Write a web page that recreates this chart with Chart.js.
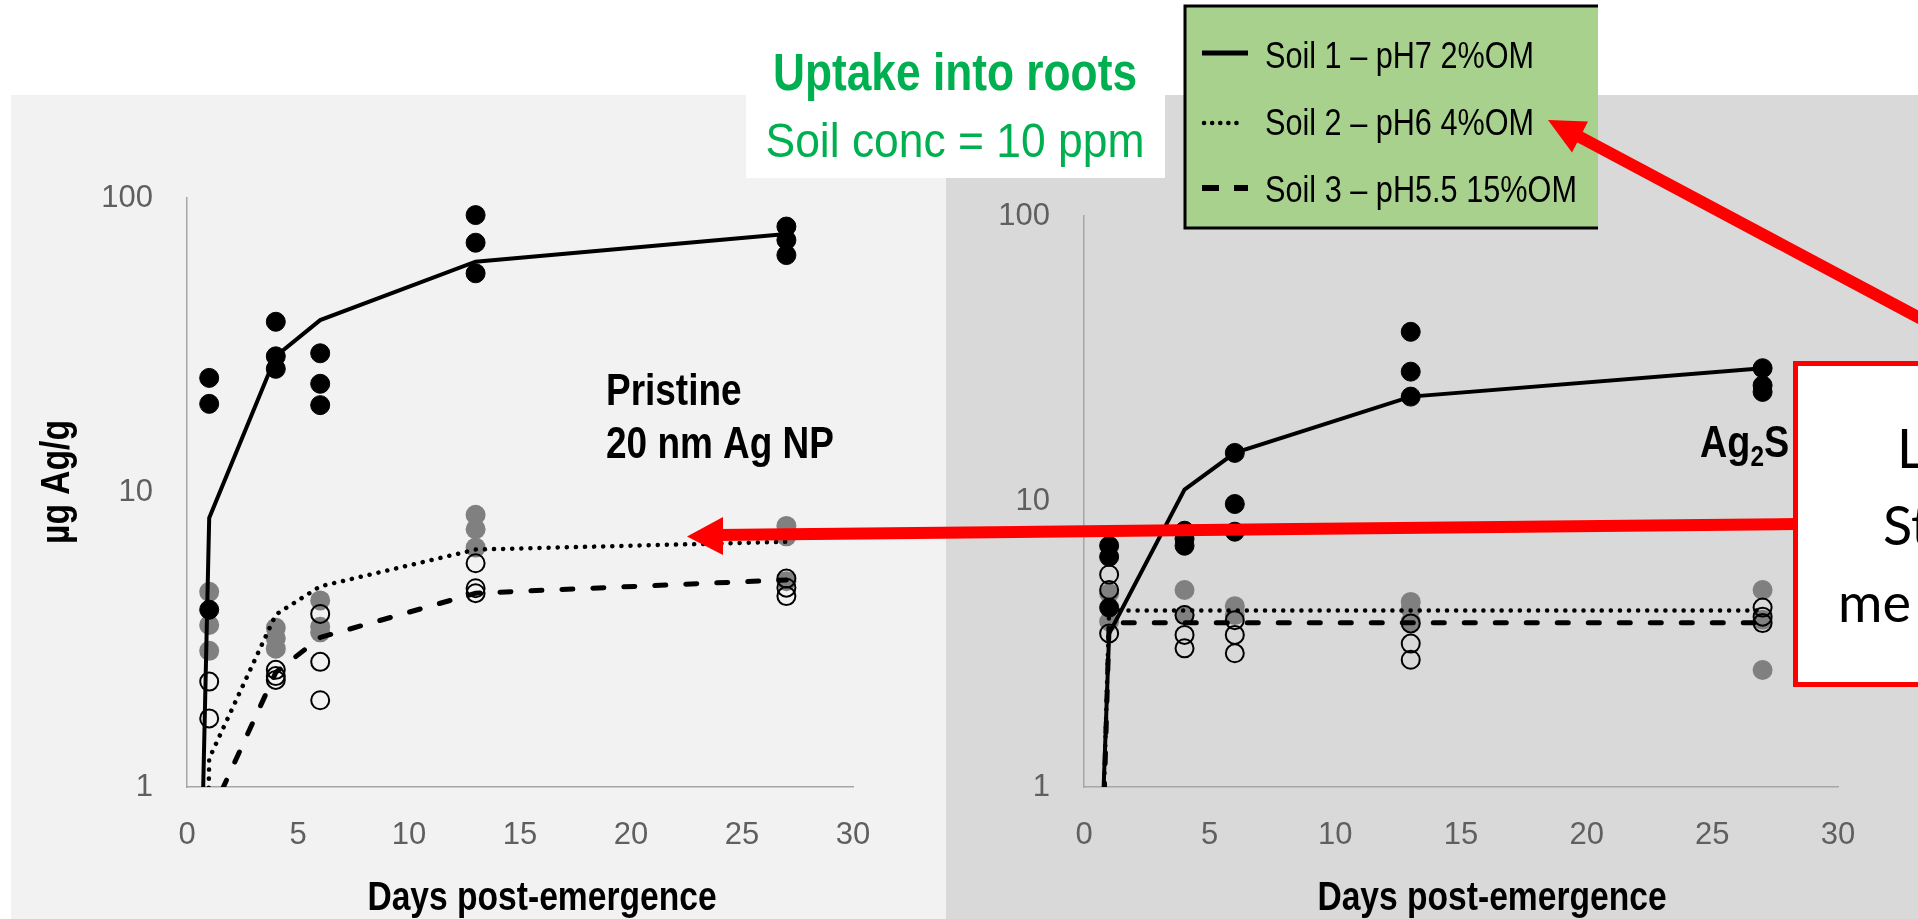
<!DOCTYPE html>
<html><head><meta charset="utf-8">
<script src="https://cdn.jsdelivr.net/npm/chart.js@4.4.1/dist/chart.umd.min.js"></script>
<style>
html,body{margin:0;padding:0;background:#fff;}
body{width:1918px;height:919px;overflow:hidden;position:relative;}
.panel{position:absolute;}
#ov{position:absolute;left:0;top:0;}
</style></head><body>
<div class="panel" style="left:11px;top:95px;width:935px;height:824px;background:#f2f2f2"><canvas id="c1" width="935" height="824"></canvas></div>
<div class="panel" style="left:946px;top:95px;width:972px;height:824px;background:#d9d9d9"><canvas id="c2" width="972" height="824"></canvas></div>
<svg id="ov" width="1918" height="919" xmlns="http://www.w3.org/2000/svg">
  <rect x="746" y="0" width="419" height="178" fill="#fff"/>
  <text x="955" y="90" text-anchor="middle" fill="#00b050" textLength="364" lengthAdjust="spacingAndGlyphs" style="font:bold 51px 'Liberation Sans',Arial,sans-serif">Uptake into roots</text>
  <text x="955" y="157" text-anchor="middle" fill="#00b050" textLength="379" lengthAdjust="spacingAndGlyphs" style="font:49px 'Liberation Sans',Arial,sans-serif">Soil conc = 10 ppm</text>
  <rect x="1185" y="6" width="413" height="222" fill="#a9d18e"/>
  <path d="M1598,6 L1185,6 L1185,228 L1598,228" fill="none" stroke="#000" stroke-width="3"/>
  <line x1="1202" y1="53" x2="1248" y2="53" stroke="#000" stroke-width="5"/>
  <line x1="1204" y1="123" x2="1242" y2="123" stroke="#000" stroke-width="4.5" stroke-linecap="round" stroke-dasharray="0.1 8"/>
  <line x1="1202" y1="188" x2="1248" y2="188" stroke="#000" stroke-width="6" stroke-dasharray="17 15"/>
  <g fill="#000" style="font:36px 'Liberation Sans',Arial,sans-serif">
    <text x="1265" y="68" id="lg0" textLength="269" lengthAdjust="spacingAndGlyphs"></text>
    <text x="1265" y="135" id="lg1" textLength="269" lengthAdjust="spacingAndGlyphs"></text>
    <text x="1265" y="202" id="lg2" textLength="312" lengthAdjust="spacingAndGlyphs"></text>
  </g>
  <rect x="1795.5" y="363.5" width="200" height="321" fill="#fff" stroke="#ff0000" stroke-width="5"/>
  <g fill="#000" style="font:54px Lato,'Open Sans',sans-serif">
    <text x="1897" y="468">L</text>
    <text x="1883" y="545">St</text>
    <text x="1838" y="622">me</text>
  </g>
  <line x1="1795" y1="524" x2="718" y2="535" stroke="#ff0000" stroke-width="12"/>
  <polygon points="687,536.5 723,517 723,555" fill="#ff0000"/>
  <line x1="1930" y1="323.5" x2="1578" y2="136" stroke="#ff0000" stroke-width="12"/>
  <polygon points="1548,120 1588,121.5 1572,152.5" fill="#ff0000"/>
</svg>
<script>
// ---------------- data ----------------
const sampleDays = [1, 4, 6, 13, 27];
const meanDays = [0, 1, 4, 6, 13, 27];
const seriesNames = ['Soil 1 \u2013 pH7 2%OM', 'Soil 2 \u2013 pH6 4%OM', 'Soil 3 \u2013 pH5.5 15%OM'];
const yTickValues = [1, 10, 100];
const xMin = 0, xMax = 30, xStep = 5;

// Pristine 20 nm Ag NP – individual replicates (µg Ag/g) per sampling day
const pristineSoil1 = [[24.5, 20.0, 4.0], [38.0, 29.0, 26.3], [29.7, 23.4, 19.8], [87.5, 70.5, 55.5], [80.0, 72.0, 64.0]];
const pristineSoil2 = [[4.6, 3.55, 2.9], [3.47, 3.2, 2.95], [4.3, 3.5, 3.35], [8.4, 7.5, 6.5], [7.7, 7.1, 5.0]];
const pristineSoil3 = [[2.28, 1.71], [2.5, 2.38, 2.31], [3.87, 2.66, 1.97], [5.75, 4.73, 4.55], [5.1, 4.75, 4.45]];
// Pristine – mean lines
const pristineMean1 = [0.0034, 8.2, 29.0, 38.5, 60.8, 75.5];
const pristineMean2 = [0.00002, 1.25, 3.85, 4.8, 6.4, 6.8];
const pristineMean3 = [0.01, 0.785, 2.45, 3.22, 4.55, 5.05];

// Ag2S – individual replicates
const ag2sSoil1 = [[7.0, 6.4, 4.25], [7.9, 7.4, 7.0], [14.8, 9.8, 7.84], [39.3, 28.5, 23.3], [29.3, 25.5, 24.2]];
const ag2sSoil2 = [[4.77, 3.8], [4.9, 4.0], [4.3, 4.0], [4.45, 4.2, 3.8], [4.9, 3.85, 2.57]];
const ag2sSoil3 = [[5.55, 4.9, 3.45], [4.0, 3.41, 3.06], [3.84, 3.41, 2.94], [3.74, 3.18, 2.79], [4.25, 3.95, 3.75]];
// Ag2S – mean lines
const ag2sMean1 = [0.0118, 3.45, 11.0, 14.8, 23.3, 29.3];
const ag2sMean2 = [0.0034, 4.15, 4.15, 4.15, 4.15, 4.15];
const ag2sMean3 = [0.003, 3.76, 3.76, 3.76, 3.76, 3.76];

// ---------------- helpers ----------------
seriesNames.forEach((n, i) => { document.getElementById('lg' + i).textContent = n; });

function toPoints(values) {
  const pts = [];
  values.forEach((vals, i) => vals.forEach(v => pts.push({x: sampleDays[i], y: v})));
  return pts;
}
function toLine(means) { return means.map((v, i) => ({x: meanDays[i], y: v})); }

const SANS = '"Liberation Sans",Arial,sans-serif';
const TICKFONT = {family: SANS, size: 31};

const lineStyles = [
  {borderColor: '#000', borderWidth: 4, borderDash: []},
  {borderColor: '#000', borderWidth: 4.5, borderDash: [0.1, 9], borderCapStyle: 'round'},
  {borderColor: '#000', borderWidth: 5, borderDash: [11, 20], borderCapStyle: 'round'}
];
const pointStyles = [
  {backgroundColor: '#000', borderColor: '#000', borderWidth: 1, pointRadius: 9.5, order: 4},
  {backgroundColor: '#808080', borderColor: '#808080', borderWidth: 0, pointRadius: 10, order: 5},
  {backgroundColor: 'rgba(0,0,0,0)', borderColor: '#000', borderWidth: 2, pointRadius: 9, order: 3}
];

function buildDatasets(points, means) {
  const ds = [];
  for (let i = 0; i < 3; i++) {
    ds.push(Object.assign({label: seriesNames[i], data: toLine(means[i]), showLine: true,
      pointRadius: 0, pointHoverRadius: 0, fill: false, tension: 0, order: i}, lineStyles[i]));
    ds.push(Object.assign({label: seriesNames[i] + ' (replicates)', data: toPoints(points[i]),
      showLine: false, pointHoverRadius: 0}, pointStyles[i]));
  }
  return ds;
}

// condensed text drawn on the chart canvas (horizontal scale sx ≈ narrow face)
function textLayer(items) {
  return {
    id: 'textLayer',
    afterDraw(chart) {
      const ctx = chart.ctx;
      items.forEach(it => {
        ctx.save();
        ctx.fillStyle = it.color || '#000';
        ctx.textAlign = it.align || 'left';
        ctx.textBaseline = it.baseline || 'alphabetic';
        ctx.translate(it.x, it.y);
        if (it.rotate) ctx.rotate(it.rotate);
        ctx.scale(it.sx || 1, 1);
        if (it.parts) {
          let x = 0;
          it.parts.forEach(p => {
            ctx.font = p.font; ctx.fillText(p.text, x, p.dy || 0);
            x += ctx.measureText(p.text).width;
          });
        } else {
          ctx.font = it.font; ctx.fillText(it.text, 0, 0);
        }
        ctx.restore();
      });
    }
  };
}

function makeConfig(points, means, W, H, area, texts) {
  return {
    type: 'scatter',
    data: {datasets: buildDatasets(points, means)},
    plugins: [textLayer(texts)],
    options: {
      responsive: false, animation: false, events: [],
      layout: {padding: {left: 0, top: area.top, right: W - area.right, bottom: 0}},
      plugins: {legend: {display: false}, tooltip: {enabled: false}},
      scales: {
        x: {type: 'linear', min: xMin, max: xMax,
          ticks: {stepSize: xStep, color: '#5f5f5f', font: TICKFONT, padding: 30, maxRotation: 0},
          grid: {display: false, drawTicks: false},
          border: {display: true, color: '#a6a6a6', width: 1.5},
          afterFit: s => { s.height = H - area.bottom; }},
        y: {type: 'logarithmic', min: yTickValues[0], max: yTickValues[yTickValues.length - 1],
          ticks: {color: '#5f5f5f', font: TICKFONT, padding: 34, callback: v => String(v)},
          afterBuildTicks: s => { s.ticks = yTickValues.map(v => ({value: v})); },
          grid: {display: false, drawTicks: false},
          border: {display: true, color: '#a6a6a6', width: 1.5},
          afterFit: s => { s.width = area.left; }}
      }
    }
  };
}

const NX = 0.84;
new Chart(document.getElementById('c1'), makeConfig(
  [pristineSoil1, pristineSoil2, pristineSoil3],
  [pristineMean1, pristineMean2, pristineMean3],
  935, 824, {left: 176, right: 842, top: 103, bottom: 692},
  [
    {text: '\u00b5g Ag/g', x: 47, y: 387, rotate: -Math.PI / 2, align: 'center', baseline: 'middle', sx: NX, font: 'bold 40px ' + SANS},
    {text: 'Days post-emergence', x: 531, y: 815, align: 'center', sx: NX, font: 'bold 40px ' + SANS},
    {text: 'Pristine', x: 595, y: 310, sx: NX, font: 'bold 44px ' + SANS},
    {text: '20 nm Ag NP', x: 595, y: 363, sx: NX, font: 'bold 44px ' + SANS}
  ]));

new Chart(document.getElementById('c2'), makeConfig(
  [ag2sSoil1, ag2sSoil2, ag2sSoil3],
  [ag2sMean1, ag2sMean2, ag2sMean3],
  972, 824, {left: 138, right: 892, top: 121, bottom: 692},
  [
    {text: 'Days post-emergence', x: 546, y: 815, align: 'center', sx: NX, font: 'bold 40px ' + SANS},
    {x: 754, y: 362, sx: NX, parts: [
      {text: 'Ag', font: 'bold 45px ' + SANS},
      {text: '2', font: 'bold 29px ' + SANS, dy: 9},
      {text: 'S', font: 'bold 45px ' + SANS}
    ]}
  ]));
</script>
</body></html>
